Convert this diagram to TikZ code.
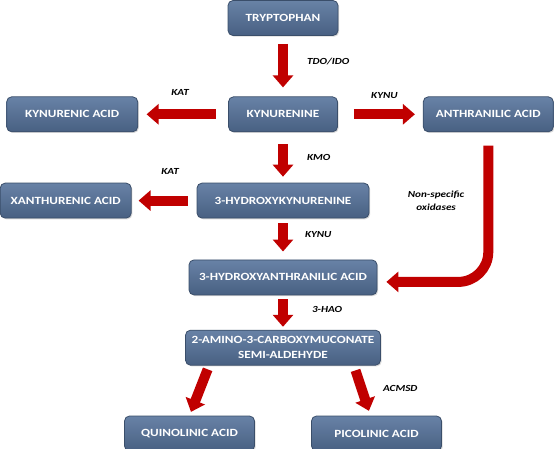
\documentclass[tikz,border=0pt]{standalone}
\usepackage{fontspec}
\setmainfont{Carlito}[FakeStretch=1.2]
\usetikzlibrary{arrows.meta,positioning,shadows}

\definecolor{boxtop}{RGB}{104,130,166}
\definecolor{boxbot}{RGB}{72,96,130}
\definecolor{boxline}{RGB}{58,78,106}
\definecolor{flowred}{RGB}{192,0,0}

\tikzset{
  metab/.style={draw=boxline, line width=0.8pt, rounded corners=5pt,
    top color=boxtop, bottom color=boxbot, text=white,
    font=\fontsize{11}{15}\selectfont\bfseries, align=center,
    minimum height=35pt, inner sep=2pt,
    drop shadow={opacity=0.3, shadow xshift=1.2pt, shadow yshift=-1.2pt}},
  flow/.style={draw=flowred, line width=10pt, -{Triangle[width=20pt,length=12pt]}},
  enz/.style={font=\fontsize{9.3}{13}\selectfont\bfseries\itshape, inner sep=1pt, align=center}
}

\begin{document}
\begin{tikzpicture}[x=1pt, y=1pt]
  \useasboundingbox (0,0) rectangle (554,-449);
  % main chain
  \node[metab, minimum width=110pt] (tryp) at (283,-18) {TRYPTOPHAN};
  \node[metab, minimum width=109pt, below=60.5pt of tryp] (kyn) {KYNURENINE};
  \node[metab, minimum width=131pt, left=90pt of kyn] (kyna) {KYNURENIC ACID};
  \node[metab, minimum width=130pt, right=85pt of kyn] (anth) {ANTHRANILIC ACID};
  \node[metab, minimum width=172pt, below=50.5pt of kyn] (hk) {3-HYDROXYKYNURENINE};
  \node[metab, minimum width=131pt, left=65pt of hk] (xa) {XANTHURENIC ACID};
  \node[metab, minimum width=188pt, below=41pt of hk] (haa) {3-HYDROXYANTHRANILIC ACID};
  \node[metab, minimum width=195pt, below=34.5pt of haa] (acms) {2-AMINO-3-CARBOXYMUCONATE\\SEMI-ALDEHYDE};
  \node[metab, minimum width=130pt, below=50pt of acms, xshift=-93.5pt] (quin) {QUINOLINIC ACID};
  \node[metab, minimum width=130pt, below=50pt of acms, xshift=93.5pt] (pico) {PICOLINIC ACID};

  % enzyme steps
  \draw[flow, shorten <=8pt, shorten >=9pt] (tryp) -- node[enz, anchor=west, xshift=18pt, yshift=5pt] (tdo) {TDO/IDO} (kyn);
  \draw[flow, shorten <=12.5pt, shorten >=8.5pt] (kyn) -- node[enz, above=13pt, xshift=-3pt] (kat1) {KAT} (kyna);
  \draw[flow, shorten <=16pt, shorten >=8pt] (kyn) -- node[enz, above=10pt, xshift=4pt] (kynu1) {KYNU} (anth);
  \draw[flow, shorten <=12pt, shorten >=6pt] (kyn) -- node[enz, anchor=west, xshift=18pt] (kmo) {KMO} (hk);
  \draw[flow, shorten <=9pt, shorten >=7pt] (hk) -- node[enz, above=20pt, xshift=6pt] (kat2) {KAT} (xa);
  \draw[flow, shorten <=5pt, shorten >=8pt] (hk) -- node[enz, anchor=west, xshift=16pt, yshift=4pt] (kynu2) {KYNU} (haa);
  \draw[flow, shorten <=4pt, shorten >=3pt] (haa) -- node[enz, anchor=west, xshift=23pt, yshift=3pt] (hao) {3-HAO} (acms);
  \draw[flow, shorten <=4pt, shorten >=4pt] ([xshift=24pt]acms.south west) -- (quin.north);
  \draw[flow, shorten <=5pt, shorten >=5pt] ([xshift=-27pt]acms.south east) -- node[enz, anchor=west, xshift=15pt, yshift=2pt] (acmsd) {ACMSD} ([xshift=-6pt]pico.north);
  \draw[flow, rounded corners=30pt, shorten <=13.5pt, shorten >=9pt] (anth.south) |- node[enz, pos=0.25, anchor=east, xshift=-18pt, yshift=6pt] (nso) {Non-specific\\oxidases} ([yshift=-4.5pt]haa.east);
\end{tikzpicture}
\end{document}
